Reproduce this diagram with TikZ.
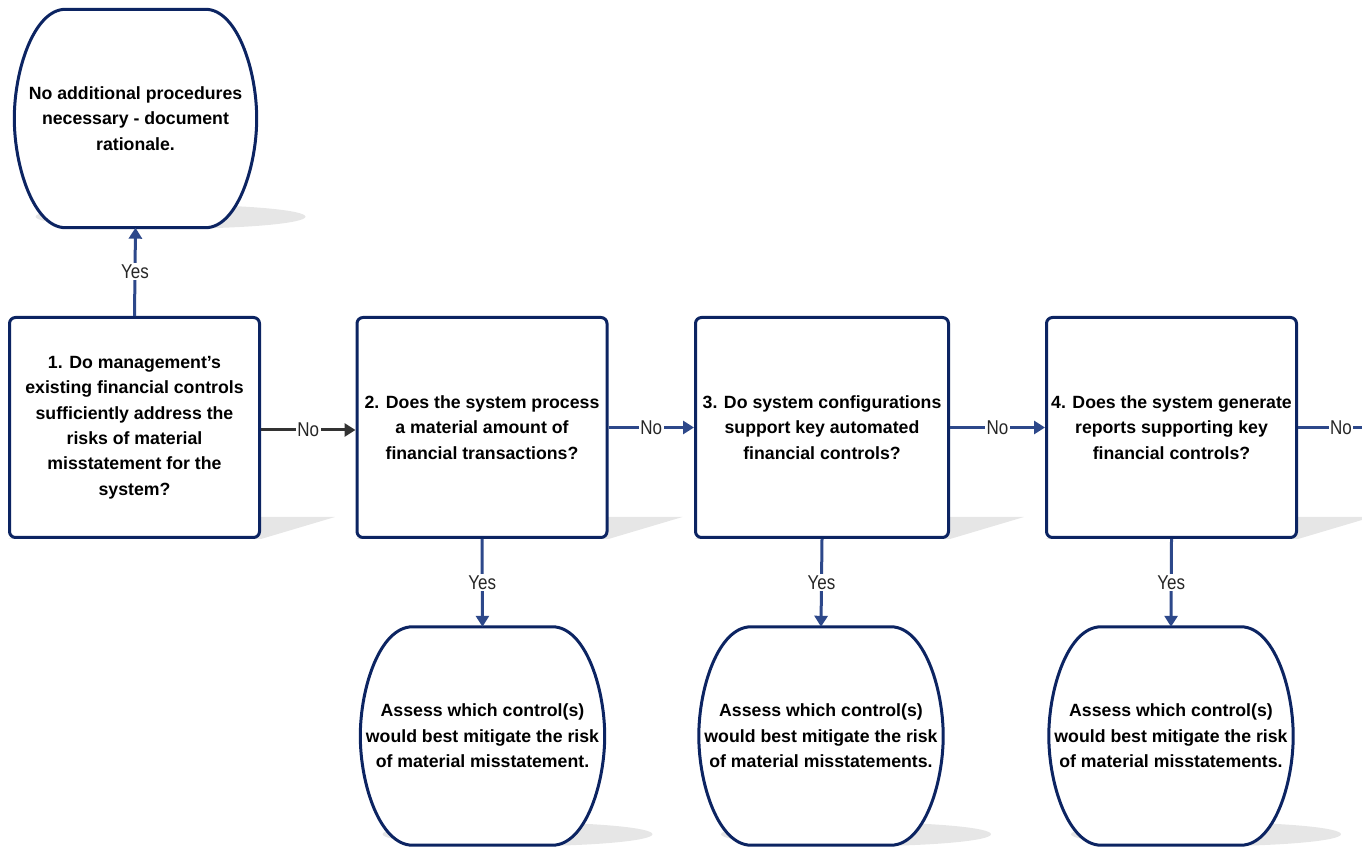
\documentclass[tikz,border=0pt]{standalone}
\usepackage{fontspec}
\setmainfont{Liberation Sans}
\newfontfamily\narrowfont{Liberation Sans}[FakeStretch=0.85]
\usepackage{xcolor}
\usepackage{tikz}
\usetikzlibrary{arrows.meta}

\definecolor{boxline}{RGB}{12,36,98}
\definecolor{flowline}{RGB}{45,72,138}
\definecolor{shadowgray}{RGB}{230,230,230}

\pgfdeclarelayer{shadow}
\pgfdeclarelayer{outline}
\pgfsetlayers{shadow,outline,main}

\tikzset{
  question/.style={draw=boxline, line width=3pt, fill=white, rounded corners=6pt,
    minimum width=250pt, minimum height=220pt, inner sep=0pt, align=center,
    font=\bfseries\fontsize{17.7}{25.4}\selectfont},
  outcome/.style={minimum width=244pt, minimum height=218pt, inner sep=0pt, align=center,
    font=\bfseries\fontsize{17.7}{25.4}\selectfont},
  ovalline/.style={draw=boxline, line width=3pt, fill=white},
  flow/.style={draw=flowline, line width=3pt, -{Triangle[length=11pt,width=13pt]}},
  answer/.style={midway, fill=white, inner sep=1.5pt, text=black!85,
    font=\narrowfont\fontsize{20}{21}\selectfont},
}

\begin{document}
\begin{tikzpicture}[x=1pt, y=1pt]
  \useasboundingbox (0,0) rectangle (1362,846);
  \clip (0,0) rectangle (1362,846);

  % questions
  \node[question] (q1) at (134.5,418.5) {1. Do management's\\existing financial controls\\sufficiently address the\\risks of material\\misstatement for the\\system?};
  \node[question] (q2) at (482,418.5) {2. Does the system process\\a material amount of\\financial transactions?};
  \node[question, minimum width=253pt] (q3) at (822,418.5) {3. Do system configurations\\support key automated\\financial controls?};
  \node[question] (q4) at (1171.5,418.5) {4. Does the system generate\\reports supporting key\\financial controls?};

  % outcomes
  \node[outcome, minimum width=242pt] (done) at (135.5,727.5) {No additional procedures\\necessary - document\\rationale.};
  \node[outcome] (assessA) at (482.5,110) {Assess which control(s)\\would best mitigate the risk\\of material misstatement.};
  \node[outcome] (assessB) at (821,110) {Assess which control(s)\\would best mitigate the risk\\of material misstatements.};
  \node[outcome] (assessC) at (1171,110) {Assess which control(s)\\would best mitigate the risk\\of material misstatements.};
  \coordinate (offpage) at (1384,418.5);

  \begin{pgfonlayer}{outline}
    \foreach \o in {done,assessA,assessB,assessC}
      \draw[ovalline] ([xshift=-70pt]\o.north) -- ([xshift=70pt]\o.north)
        .. controls ([xshift=-20pt]\o.north east) and ([yshift=-60pt]\o.north east) .. (\o.east)
        .. controls ([yshift=60pt]\o.south east) and ([xshift=-20pt]\o.south east) .. ([xshift=70pt]\o.south)
        -- ([xshift=-70pt]\o.south)
        .. controls ([xshift=20pt]\o.south west) and ([yshift=60pt]\o.south west) .. (\o.west)
        .. controls ([yshift=-60pt]\o.north west) and ([xshift=20pt]\o.north west) .. cycle;
  \end{pgfonlayer}

  \begin{pgfonlayer}{shadow}
    \foreach \q in {q1,q2,q3,q4}
      \fill[shadowgray] (\q.south west) -- (\q.south east) -- ([shift={(74pt,22pt)}]\q.south east) -- ([shift={(74pt,22pt)}]\q.south west) -- cycle;
    \foreach \o in {done,assessA,assessB,assessC}
      \fill[shadowgray] ([shift={(35pt,11pt)}]\o.south) ellipse [x radius=135pt, y radius=12pt];
  \end{pgfonlayer}

  % connectors
  \draw[flow] (q1.north) -- (done.south) node[answer] {Yes};
  \draw[flow, draw=black!80] ([yshift=-2.5pt]q1.east) -- ([yshift=-2.5pt]q2.west) node[answer] {No};
  \draw[flow] (q2.east) -- (q3.west) node[answer] {No};
  \draw[flow] (q3.east) -- (q4.west) node[answer] {No};
  \draw[draw=flowline, line width=3pt] (q4.east) -- (offpage) node[answer] {No};
  \draw[flow] (q2.south) -- (assessA.north) node[answer] {Yes};
  \draw[flow] (q3.south) -- (assessB.north) node[answer] {Yes};
  \draw[flow] (q4.south) -- (assessC.north) node[answer] {Yes};
\end{tikzpicture}
\end{document}
